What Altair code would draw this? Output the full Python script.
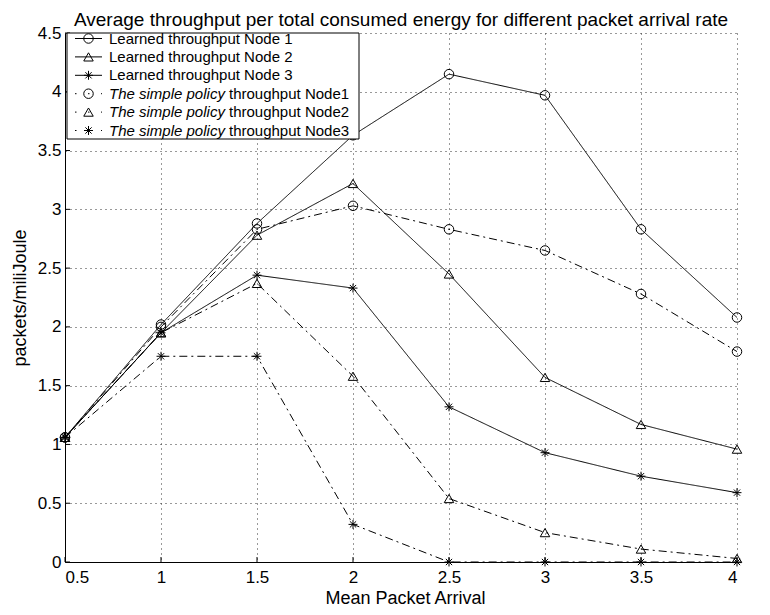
import altair as alt
import pandas as pd

# ---------------- data ----------------
x_vals = [0.5, 1, 1.5, 2, 2.5, 3, 3.5, 4]
learned_n1 = [1.06, 2.02, 2.88, 3.63, 4.15, 3.97, 2.83, 2.08]
learned_n2 = [1.06, 1.95, 2.78, 3.22, 2.45, 1.57, 1.17, 0.96]
learned_n3 = [1.06, 1.95, 2.44, 2.33, 1.32, 0.93, 0.73, 0.59]
simple_n1 = [1.06, 2.00, 2.83, 3.03, 2.83, 2.65, 2.28, 1.79]
simple_n2 = [1.06, 1.95, 2.37, 1.58, 0.54, 0.25, 0.11, 0.03]
simple_n3 = [1.06, 1.75, 1.75, 0.32, 0.00, 0.00, 0.00, 0.00]

x_ticks = [0.5, 1, 1.5, 2, 2.5, 3, 3.5, 4]
y_ticks = [0, 0.5, 1, 1.5, 2, 2.5, 3, 3.5, 4, 4.5]

title_text = "Average throughput per total consumed energy for different packet arrival rate"
x_title = "Mean Packet Arrival"
y_title = "packets/miliJoule"

# ---------------- style ----------------
FONT = "Liberation Sans"
W, H = 672, 529
ASTERISK = "M0,-1L0,1M-1,0L1,0M-0.7,-0.7L0.7,0.7M-0.7,0.7L0.7,-0.7"
SOLID = [1, 0]
DASHDOT = [8, 4, 2, 4]

series = [
    ("Learned throughput Node 1", learned_n1, "solid", "circle"),
    ("Learned throughput Node 2", learned_n2, "solid", "triangle-up"),
    ("Learned throughput Node 3", learned_n3, "solid", ASTERISK),
    ("Node1", simple_n1, "dashdot", "circle"),
    ("Node2", simple_n2, "dashdot", "triangle-up"),
    ("Node3", simple_n3, "dashdot", ASTERISK),
]

xscale = alt.Scale(domain=[0.5, 4], nice=False, zero=False)
yscale = alt.Scale(domain=[0, 4.5], nice=False)

# base (axes + grid)
base = alt.Chart(pd.DataFrame({"x": x_vals, "y": learned_n1})).mark_point(opacity=0).encode(
    x=alt.X("x:Q", scale=xscale,
            axis=alt.Axis(values=x_ticks, format="~g", title=x_title, grid=True,
                          titleY=41, titleBaseline="alphabetic", titleX=W / 2 + 4)),
    y=alt.Y("y:Q", scale=yscale,
            axis=alt.Axis(values=y_ticks, format="~g", title=y_title, grid=True,
                          titleX=-40, titleY=H / 2, titleBaseline="alphabetic",
                          titleAlign="center", titleAngle=-90)),
)

layers = [base]

# inward ticks
xt = alt.Chart(pd.DataFrame({"x": x_ticks})).mark_rule(color="black", strokeWidth=1).encode(
    x=alt.X("x:Q", scale=xscale), y=alt.value(H), y2=alt.value(H - 5))
yt = alt.Chart(pd.DataFrame({"y": y_ticks})).mark_rule(color="black", strokeWidth=1).encode(
    y=alt.Y("y:Q", scale=yscale), x=alt.value(0), x2=alt.value(5))
layers += [xt, yt]

size_map = {"circle": 90, "triangle-up": 90}

for name, vals, style, shape in series:
    df = pd.DataFrame({"x": x_vals, "y": vals})
    dash = SOLID if style == "solid" else DASHDOT
    line = alt.Chart(df).mark_line(color="black", strokeWidth=1, strokeDash=dash).encode(
        x=alt.X("x:Q", scale=xscale), y=alt.Y("y:Q", scale=yscale))
    pts = alt.Chart(df).mark_point(shape=shape, filled=False, color="black", strokeWidth=1,
                                   size=size_map.get(shape, 80), opacity=1).encode(
        x=alt.X("x:Q", scale=xscale), y=alt.Y("y:Q", scale=yscale))
    layers += [line, pts]

# ---------------- legend (drawn manually to allow mixed italic text) ----------------
one = pd.DataFrame({"k": [0]})
box = alt.Chart(one).mark_rect(fill="white", stroke="black", strokeWidth=1).encode(
    x=alt.value(2), x2=alt.value(294), y=alt.value(0), y2=alt.value(106))
layers.append(box)

for i, (name, vals, style, shape) in enumerate(series):
    yy = 5.5 + 18.4 * i
    dash = SOLID if style == "solid" else [1.5, 11.5]
    layers.append(alt.Chart(one).mark_rule(color="black", strokeWidth=1, strokeDash=dash).encode(
        x=alt.value(10), x2=alt.value(37), y=alt.value(yy)))
    layers.append(alt.Chart(one).mark_point(shape=shape, filled=False, color="black", strokeWidth=1,
                                            size=size_map.get(shape, 80), opacity=1).encode(
        x=alt.value(23.5), y=alt.value(yy)))
    if style == "solid":
        layers.append(alt.Chart(one).mark_text(align="left", baseline="middle", font=FONT, fontSize=15,
                                               color="black").encode(
            x=alt.value(44), y=alt.value(yy), text=alt.value(name)))
    else:
        layers.append(alt.Chart(one).mark_text(align="left", baseline="middle", font=FONT, fontSize=15,
                                               fontStyle="italic", color="black").encode(
            x=alt.value(44), y=alt.value(yy), text=alt.value("The simple policy")))
        layers.append(alt.Chart(one).mark_text(align="left", baseline="middle", font=FONT, fontSize=15,
                                               color="black").encode(
            x=alt.value(164), y=alt.value(yy), text=alt.value("throughput " + name)))

# chart title drawn as text above the plot area
layers.append(alt.Chart(one).mark_text(align="center", baseline="alphabetic", font=FONT, fontSize=19,
                                       color="black").encode(
    x=alt.value(W / 2), y=alt.value(-7.5), text=alt.value(title_text)))

chart = alt.layer(*layers).properties(
    width=W, height=H,
    autosize=alt.AutoSizeParams(type="none"),
    padding={"left": 57, "top": 25, "right": 23, "bottom": 45},
).configure_view(stroke=None).configure_axis(
    labelFont=FONT, labelFontSize=17, labelColor="black",
    titleFont=FONT, titleFontSize=18, titleColor="black", titleFontWeight="normal",
    domainColor="black", domainWidth=1, ticks=False, tickSize=0,
    gridColor="#333333", gridDash=[1, 4], gridWidth=1, gridOpacity=1,
).configure_axisX(labelPadding=7).configure_axisY(labelPadding=4)

chart.save("out.html", embed_options={"renderer": "svg", "actions": False})
